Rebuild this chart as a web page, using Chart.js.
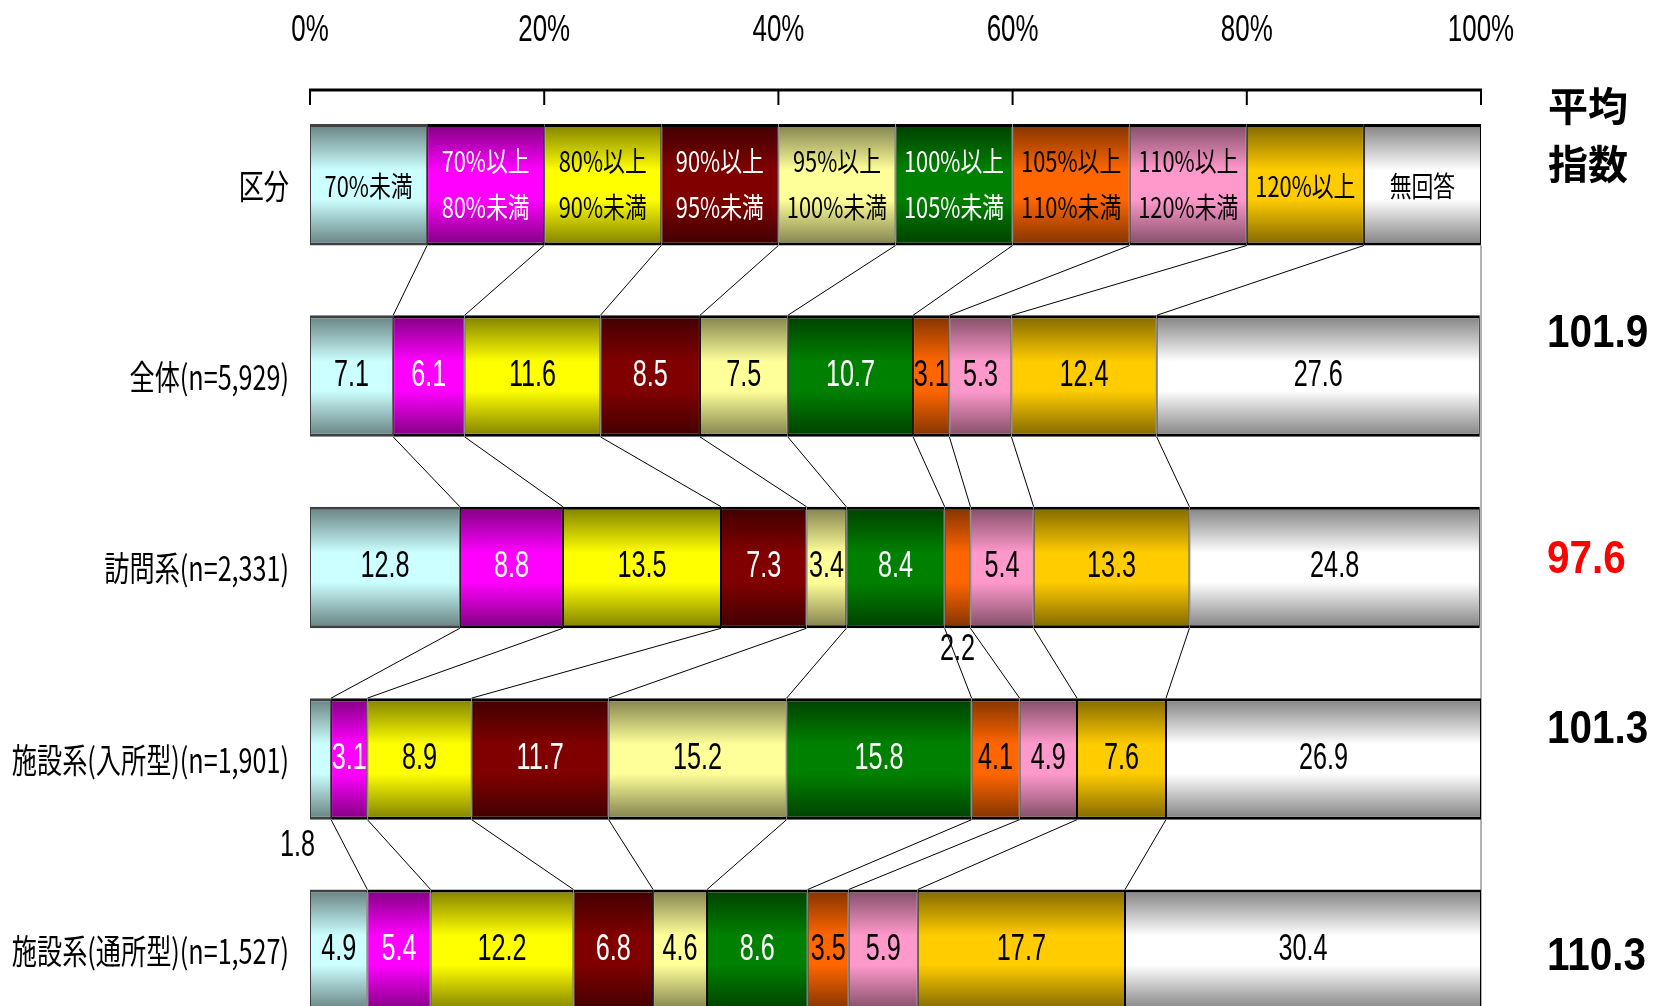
<!DOCTYPE html>
<html lang="ja">
<head>
<meta charset="utf-8">
<title>平均指数別の構成比</title>
<script src="https://cdn.jsdelivr.net/npm/chart.js@4.4.1/dist/chart.umd.min.js"></script>
<style>
  html, body { margin: 0; padding: 0; background: #fff; overflow: hidden; }
  #wrap { width: 1658px; height: 1050px; }
</style>
</head>
<body>
<div id="wrap"><canvas id="myChart"></canvas></div>
<script>
'use strict';

// rows, top to bottom (the first row is the key for the bands)
const categories = ['区分', '全体(n=5,929)', '訪問系(n=2,331)', '施設系(入所型)(n=1,901)', '施設系(通所型)(n=1,527)'];

// one stacked segment per band
const bandNames = [
  ['70%未満'],
  ['70%以上', '80%未満'],
  ['80%以上', '90%未満'],
  ['90%以上', '95%未満'],
  ['95%以上', '100%未満'],
  ['100%以上', '105%未満'],
  ['105%以上', '110%未満'],
  ['110%以上', '120%未満'],
  ['120%以上'],
  ['無回答']
];

const keyRow = [10, 10, 10, 10, 10, 10, 10, 10, 10, 10];
const allRow = [7.1, 6.1, 11.6, 8.5, 7.5, 10.7, 3.1, 5.3, 12.4, 27.6];
const visitRow = [12.8, 8.8, 13.5, 7.3, 3.4, 8.4, 2.2, 5.4, 13.3, 24.8];
const residentRow = [1.8, 3.1, 8.9, 11.7, 15.2, 15.8, 4.1, 4.9, 7.6, 26.9];
const dayRow = [4.9, 5.4, 12.2, 6.8, 4.6, 8.6, 3.5, 5.9, 17.7, 30.4];

// 平均指数 for each data row
const avgIndex = [101.9, 97.6, 101.3, 110.3];

const xTicks = [0, 20, 40, 60, 80, 100];

// styles
const bandColors = ['#CCFFFF', '#FF00FF', '#FFFF00', '#800000', '#FFFF99', '#008000', '#FF6600', '#FF99CC', '#FFCC00', '#FFFFFF'];
const textColors = ['#000', '#fff', '#000', '#fff', '#000', '#fff', '#000', '#000', '#000', '#000'];
const barPct = 0.635;
const avgNudge = [-42, -7, -29, 7];

const LATIN = "'Liberation Sans', Arial, sans-serif";
const CJK = "'Noto Sans CJK JP', 'Noto Sans', sans-serif";

function darker(hex, f) {
  let r = parseInt(hex.slice(1, 3), 16);
  let g = parseInt(hex.slice(3, 5), 16);
  let b = parseInt(hex.slice(5, 7), 16);
  return `rgb(${Math.round(r * f)}, ${Math.round(g * f)}, ${Math.round(b * f)})`;
}

// vertical shading: dark at the edges, full colour in the middle
function shaded(base) {
  return function(context) {
    let chart = context.chart;
    let yScale = chart.scales.y;
    if (!chart.chartArea || !yScale) {
      return base;
    }
    let c = yScale.getPixelForValue(context.dataIndex);
    let step = Math.abs(yScale.getPixelForValue(1) - yScale.getPixelForValue(0));
    let h = step * barPct / 2;
    let g = chart.ctx.createLinearGradient(0, c - h, 0, c + h);
    g.addColorStop(0, darker(base, 0.5));
    g.addColorStop(0.38, base);
    g.addColorStop(0.62, base);
    g.addColorStop(1, darker(base, 0.5));
    return g;
  };
}

// narrow text, like the condensed fonts of the original sheet
function drawText(ctx, text, x, y, font, color, align, sx) {
  ctx.save();
  ctx.font = font;
  ctx.fillStyle = color;
  ctx.textAlign = align;
  ctx.textBaseline = 'middle';
  ctx.translate(x, y);
  ctx.scale(sx, 1);
  ctx.fillText(text, 0, 0);
  ctx.restore();
}

function textWidth(ctx, text, font, sx) {
  ctx.save();
  ctx.font = font;
  let w = ctx.measureText(text).width * sx;
  ctx.restore();
  return w;
}

let datasets = [];
for (let k = 0; k < bandNames.length; k++) {
  datasets.push({
    label: bandNames[k].join(''),
    data: [keyRow[k], allRow[k], visitRow[k], residentRow[k], dayRow[k]],
    backgroundColor: shaded(bandColors[k]),
    borderColor: k === 0 ? '#404040' : '#000',
    borderWidth: { top: 3, bottom: 3, left: 1, right: 1 },
    borderSkipped: false,
    barPercentage: barPct,
    categoryPercentage: 1
  });
}

const overlay = {
  id: 'overlay',
  beforeDatasetsDraw(chart) {
    let ctx = chart.ctx;
    let xs = chart.scales.x;
    let first = chart.getDatasetMeta(0).data[0];
    let xr = xs.getPixelForValue(100);
    ctx.save();
    ctx.strokeStyle = '#9a9a9a';
    ctx.lineWidth = 1.5;
    ctx.beginPath();
    ctx.moveTo(xr, first.y + first.height / 2);
    ctx.lineTo(xr, chart.chartArea.bottom);
    ctx.stroke();
    ctx.restore();
  },
  afterDatasetsDraw(chart) {
    let ctx = chart.ctx;
    let metas = chart.data.datasets.map((d, i) => chart.getDatasetMeta(i));

    // lines joining the band boundaries of neighbouring rows
    ctx.save();
    ctx.strokeStyle = '#000';
    ctx.lineWidth = 1;
    for (let r = 0; r < categories.length - 1; r++) {
      for (let k = 0; k < metas.length - 1; k++) {
        let a = metas[k].data[r];
        let b = metas[k].data[r + 1];
        ctx.beginPath();
        ctx.moveTo(a.x, a.y + a.height / 2);
        ctx.lineTo(b.x, b.y - b.height / 2);
        ctx.stroke();
      }
    }
    ctx.restore();

    // key row texts
    let keyFont = `28px ${CJK}`;
    for (let k = 0; k < metas.length; k++) {
      let el = metas[k].data[0];
      let cx = (el.x + el.base) / 2;
      let lines = bandNames[k];
      if (lines.length === 1) {
        drawText(ctx, lines[0], cx, el.y + 2, keyFont, textColors[k], 'center', 0.78);
      } else {
        drawText(ctx, lines[0], cx, el.y - 23, keyFont, textColors[k], 'center', 0.78);
        drawText(ctx, lines[1], cx, el.y + 23, keyFont, textColors[k], 'center', 0.78);
      }
    }

    // value labels
    let valFont = `36px ${LATIN}`;
    for (let r = 1; r < categories.length; r++) {
      for (let k = 0; k < metas.length; k++) {
        let el = metas[k].data[r];
        let v = chart.data.datasets[k].data[r];
        let txt = v.toFixed(1);
        let cx = (el.x + el.base) / 2;
        if (v >= 3) {
          drawText(ctx, txt, cx, el.y, valFont, textColors[k], 'center', 0.7);
        } else {
          let below = el.y + el.height / 2 + 22;
          if (k === 0) {
            let w = textWidth(ctx, txt, valFont, 0.7);
            drawText(ctx, txt, el.base + 5 - w / 2, below + 4, valFont, '#000', 'center', 0.7);
          } else {
            drawText(ctx, txt, cx, below, valFont, '#000', 'center', 0.7);
          }
        }
      }
    }
  },
  afterDraw(chart) {
    let ctx = chart.ctx;
    let area = chart.chartArea;
    let xs = chart.scales.x;
    let ys = chart.scales.y;

    // percentage axis along the top
    let y0 = area.top + 1;
    ctx.save();
    ctx.strokeStyle = '#000';
    ctx.lineWidth = 3;
    ctx.beginPath();
    ctx.moveTo(xs.getPixelForValue(0) - 1, y0);
    ctx.lineTo(xs.getPixelForValue(100) + 1, y0);
    ctx.stroke();
    ctx.lineWidth = 2;
    for (let t of xTicks) {
      let px = xs.getPixelForValue(t);
      ctx.beginPath();
      ctx.moveTo(px, y0);
      ctx.lineTo(px, y0 + 15);
      ctx.stroke();
      drawText(ctx, t + '%', px, area.top - 58, `36px ${LATIN}`, '#000', 'center', 0.72);
    }
    ctx.restore();

    // row names
    for (let i = 0; i < categories.length; i++) {
      drawText(ctx, categories[i], area.left - 21, ys.getPixelForValue(i) + 1, `34px ${CJK}`, '#000', 'right', 0.74);
    }

    // 平均指数 column
    let rx = area.right + 67;
    drawText(ctx, '平均', rx, 106, `bold 40px ${CJK}`, '#000', 'left', 1);
    drawText(ctx, '指数', rx, 164, `bold 40px ${CJK}`, '#000', 'left', 1);
    for (let i = 0; i < avgIndex.length; i++) {
      let y = ys.getPixelForValue(i + 1) + avgNudge[i];
      let color = avgIndex[i] < 100 ? '#FF0000' : '#000';
      drawText(ctx, avgIndex[i].toFixed(1), area.right + 66, y, `bold 46px ${LATIN}`, color, 'left', 0.88);
    }
  }
};

const config = {
  type: 'bar',
  data: {
    labels: categories,
    datasets: datasets
  },
  options: {
    indexAxis: 'y',
    responsive: true,
    maintainAspectRatio: false,
    animation: false,
    events: [],
    layout: {
      padding: { top: 89, left: 310, right: 177, bottom: 4 }
    },
    plugins: {
      legend: { display: false },
      tooltip: { enabled: false }
    },
    scales: {
      x: {
        stacked: true,
        min: 0,
        max: 100,
        display: false
      },
      y: {
        stacked: true,
        display: false
      }
    }
  },
  plugins: [overlay]
};

const myChart = new Chart(document.getElementById('myChart'), config);
</script>
</body>
</html>
